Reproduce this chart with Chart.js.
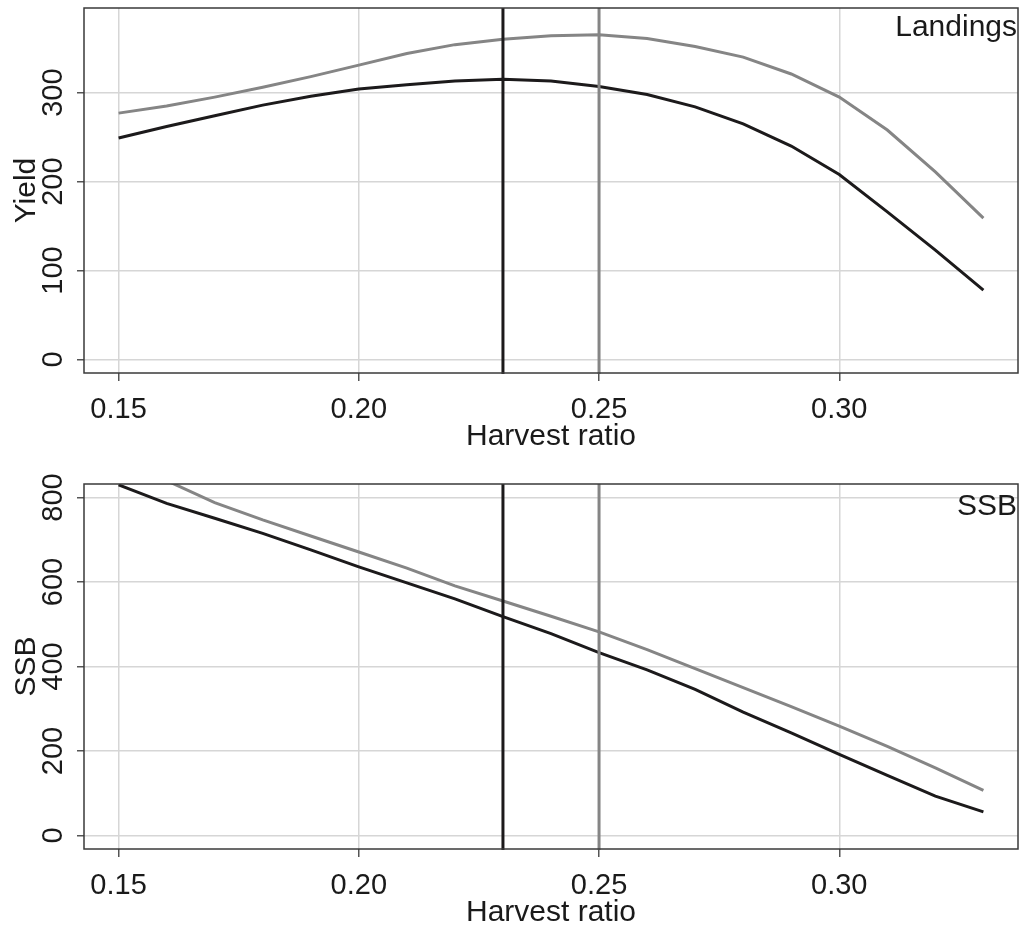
<!DOCTYPE html>
<html>
  <head>
    <meta charset="utf-8">
    <title>Harvest ratio</title>
    <style>
      body { margin: 0; background: #fff; }
      .panel { position: absolute; left: 0; width: 1027px; }
      #top { top: 0; height: 464px; }
      #bottom { top: 464px; height: 465px; }
    </style>
  </head>
  <body>
    <div id="top" class="panel"><canvas id="chart1"></canvas></div>
    <div id="bottom" class="panel"><canvas id="chart2"></canvas></div>

    <script src="https://cdn.jsdelivr.net/npm/chart.js@4.4.0/dist/chart.umd.min.js"></script>
    <script type="text/javascript">
      var harvestRatio = [0.15, 0.16, 0.17, 0.18, 0.19, 0.20, 0.21, 0.22, 0.23, 0.24, 0.25, 0.26, 0.27, 0.28, 0.29, 0.30, 0.31, 0.32, 0.33]
      var landingsBlack = [249, 262, 274, 286, 296, 304, 309, 313, 315, 313, 307, 298, 284, 265, 240, 208, 166, 123, 78]
      var landingsGray = [277, 285, 295, 306, 318, 331, 344, 354, 360, 364, 365, 361, 352, 340, 321, 295, 258, 211, 159]
      var ssbBlack = [830, 786, 751, 715, 676, 636, 598, 560, 518, 478, 433, 392, 346, 292, 243, 192, 142, 93, 56]
      var ssbGray = [900, 840, 788, 747, 709, 671, 633, 591, 555, 519, 482, 440, 395, 350, 305, 259, 211, 160, 107]

      var xTicks = [0.15, 0.20, 0.25, 0.30]
      var xTickLabels = ['0.15', '0.20', '0.25', '0.30']
      var yieldTicks = [0, 100, 200, 300]
      var ssbTicks = [0, 200, 400, 600, 800]
      var refBlack = 0.23
      var refGray = 0.25

      var black = '#1c1a1b'
      var gray = '#858585'
      var textColor = '#1a1a1a'
      var font = '"Liberation Sans", Arial, sans-serif'

      function points(ys) {
        return harvestRatio.map(function (x, i) { return { x: x, y: ys[i] } })
      }

      // reference lines, box and all the text
      var decor = {
        id: 'decor',
        afterDatasetsDraw: function (chart, args, opts) {
          var ctx = chart.ctx
          var a = chart.chartArea
          var xs = chart.scales.x
          var ys = chart.scales.y
          ctx.save()
          ctx.lineWidth = 3
          ;[[refBlack, black], [refGray, gray]].forEach(function (r) {
            var px = xs.getPixelForValue(r[0])
            ctx.strokeStyle = r[1]
            ctx.beginPath()
            ctx.moveTo(px, a.top)
            ctx.lineTo(px, a.bottom + 1)
            ctx.stroke()
          })
          ctx.strokeStyle = '#3a3a3a'
          ctx.lineWidth = 1.5
          ctx.strokeRect(a.left, a.top, a.right - a.left, a.bottom - a.top)

          ctx.fillStyle = textColor
          ctx.textBaseline = 'alphabetic'
          ctx.font = '29px ' + font
          ctx.textAlign = 'center'
          xTicks.forEach(function (v, i) {
            ctx.fillText(xTickLabels[i], xs.getPixelForValue(v), a.bottom + 45)
          })
          opts.yTicks.forEach(function (v) {
            ctx.save()
            ctx.translate(62, ys.getPixelForValue(v))
            ctx.rotate(-Math.PI / 2)
            ctx.fillText(String(v), 0, 0)
            ctx.restore()
          })
          ctx.font = '30px ' + font
          ctx.fillText('Harvest ratio', (a.left + a.right) / 2, a.bottom + 72)
          ctx.save()
          ctx.translate(35, (a.top + a.bottom) / 2)
          ctx.rotate(-Math.PI / 2)
          ctx.fillText(opts.yTitle, 0, 0)
          ctx.restore()
          ctx.textAlign = 'right'
          ctx.fillText(opts.corner, a.right - 1, a.top + opts.cornerY)
          ctx.restore()
        }
      }

      function makeChart(id, blackData, grayData, s) {
        var ctx = document.getElementById(id).getContext('2d')
        return new Chart(ctx, {
          type: 'line',
          data: {
            datasets: [{
              data: points(grayData),
              borderColor: gray,
              borderWidth: 3,
              pointRadius: 0
            }, {
              data: points(blackData),
              borderColor: black,
              borderWidth: 3,
              pointRadius: 0
            }]
          },
          options: {
            animation: false,
            responsive: true,
            maintainAspectRatio: false,
            layout: { padding: { top: s.padTop, right: 9, left: 0, bottom: 0 } },
            plugins: {
              legend: { display: false },
              tooltip: { enabled: false },
              decor: { yTicks: s.yTicks, yTitle: s.yTitle, corner: s.corner, cornerY: s.cornerY }
            },
            scales: {
              x: {
                type: 'linear',
                min: 0.1428,
                max: 0.3372,
                afterBuildTicks: function (scale) {
                  scale.ticks = xTicks.map(function (v) { return { value: v } })
                },
                afterFit: function (scale) { scale.height = s.xHeight },
                ticks: { display: false },
                border: { display: false },
                grid: { color: '#d6d6d6', lineWidth: 1.5, drawTicks: true, tickLength: 8, tickColor: '#555', tickWidth: 1.5 }
              },
              y: {
                min: s.yMin,
                max: s.yMax,
                afterBuildTicks: function (scale) {
                  scale.ticks = s.yTicks.map(function (v) { return { value: v } })
                },
                afterFit: function (scale) { scale.width = 84 },
                ticks: { display: false },
                border: { display: false },
                grid: { color: '#d6d6d6', lineWidth: 1.5, drawTicks: true, tickLength: 7, tickColor: '#555', tickWidth: 1.5 }
              }
            }
          },
          plugins: [decor]
        })
      }

      var chart1 = makeChart('chart1', landingsBlack, landingsGray, {
        yMin: -15.2, yMax: 395.2, yTicks: yieldTicks, yTitle: 'Yield', corner: 'Landings', cornerY: 28, padTop: 8, xHeight: 91
      })
      var chart2 = makeChart('chart2', ssbBlack, ssbGray, {
        yMin: -32, yMax: 832, yTicks: ssbTicks, yTitle: 'SSB', corner: 'SSB', cornerY: 31, padTop: 20, xHeight: 80
      })
    </script>
  </body>
</html>
